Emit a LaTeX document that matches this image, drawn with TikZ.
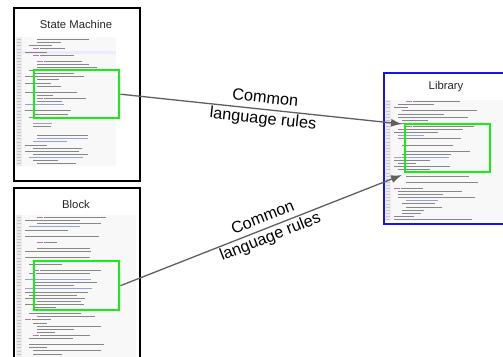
\documentclass[tikz,border=0pt]{standalone}
\usepackage{fontspec}
\setmainfont{Liberation Sans}
\usetikzlibrary{arrows.meta}
\definecolor{selgreen}{RGB}{20,240,20}
\definecolor{libblue}{RGB}{20,20,235}
\definecolor{linkgray}{RGB}{95,95,95}
\definecolor{codebg}{RGB}{248,248,248}
\definecolor{gutter}{RGB}{236,236,236}
\definecolor{cmt}{RGB}{120,140,205}
\definecolor{kw}{RGB}{160,80,160}
\definecolor{txt}{RGB}{135,135,135}

% a blurred listing: x, y, number of lines, longest line, seed
\newcommand\codelisting[5]{%
  \pgfmathsetseed{#5}%
  \foreach \k in {1,...,#3}{%
    \pgfmathsetmacro\yy{#2+(\k-1)*3.1}%
    \pgfmathrandominteger{\ind}{0}{3}%
    \pgfmathrandominteger{\len}{14}{#4}%
    \pgfmathrandominteger{\kind}{1}{9}%
    \fill[gray!45] (#1+1,\yy) rectangle ++(4,-0.8);
    \ifnum\kind=1\relax
    \else\ifnum\kind=2\relax
      \fill[cmt!80] (#1+9+\ind*4,\yy) rectangle ++(\len,-0.9);
    \else\ifnum\kind=3\relax
      \fill[kw!80] (#1+9+\ind*4,\yy) rectangle ++(6,-0.9);
      \fill[txt] (#1+16+\ind*4,\yy) rectangle ++(\len*0.8,-0.9);
    \else
      \fill[txt] (#1+9+\ind*4,\yy) rectangle ++(\len,-0.9);
    \fi\fi\fi
  }%
}

\tikzset{
  panel/.style={draw=black, line width=1.5, anchor=north west, inner sep=0},
  libpanel/.style={draw=libblue, line width=1.6, anchor=north west, inner sep=0},
  paneltitle/.style={font=\fontsize{11.3}{13}\selectfont, text=black!85},
  selbox/.style={draw=selgreen, line width=2.4, anchor=north west, inner sep=0},
  link/.style={draw=linkgray, line width=1.3, -{Latex[length=11,width=8]}},
  linklabel/.style={font=\fontsize{16.3}{20.5}\selectfont, align=center, sloped, inner sep=0, text=black}
}

\begin{document}
\begin{tikzpicture}[x=1pt,y=-1pt]
\useasboundingbox (0,0) rectangle (503,356);
\fill[white] (0,0) rectangle (503,356);

% State Machine panel
\node[panel, minimum width=126, minimum height=173] (sm) at (13,7) {};
\node[paneltitle] (smtitle) at (76,24) {State Machine};
\fill[codebg] (16,37) rectangle (116,166);
\fill[gutter] (16,37) rectangle (22,166);
\fill[blue!8] (22,51) rectangle (116,54);
\codelisting{16}{40}{41}{60}{7}

% Block panel
\node[panel, minimum width=126, minimum height=180] (blk) at (13,187) {};
\node[paneltitle] (blktitle) at (76,204) {Block};
\fill[codebg] (16,215) rectangle (136,358);
\fill[gutter] (16,215) rectangle (22,358);
\codelisting{16}{218}{45}{80}{11}

% Library panel
\node[libpanel, minimum width=130, minimum height=151] (lib) at (383,72) {};
\node[paneltitle] (libtitle) at (446,87) {Library};
\fill[codebg] (385,100) rectangle (503,221);
\fill[gutter] (385,100) rectangle (391,221);
\codelisting{385}{102}{39}{80}{23}

% highlighted regions
\node[selbox, minimum width=85, minimum height=48] (smsel) at (33,69) {};
\node[selbox, minimum width=85, minimum height=49] (blksel) at (33,260) {};
\node[selbox, minimum width=85, minimum height=48] (libsel) at (404,123) {};

% arrow ends inside the library listing
\coordinate (libin1) at (402,124);
\coordinate (libin2) at (402,175);

% links
\draw[link] (smsel.east) -- (libin1)
  node[linklabel, pos=0.51] (lbl1) {Common\\language rules};
\draw[link] (blksel.east) -- (libin2)
  node[linklabel, pos=0.52] (lbl2) {Common\\language rules};
\end{tikzpicture}
\end{document}
